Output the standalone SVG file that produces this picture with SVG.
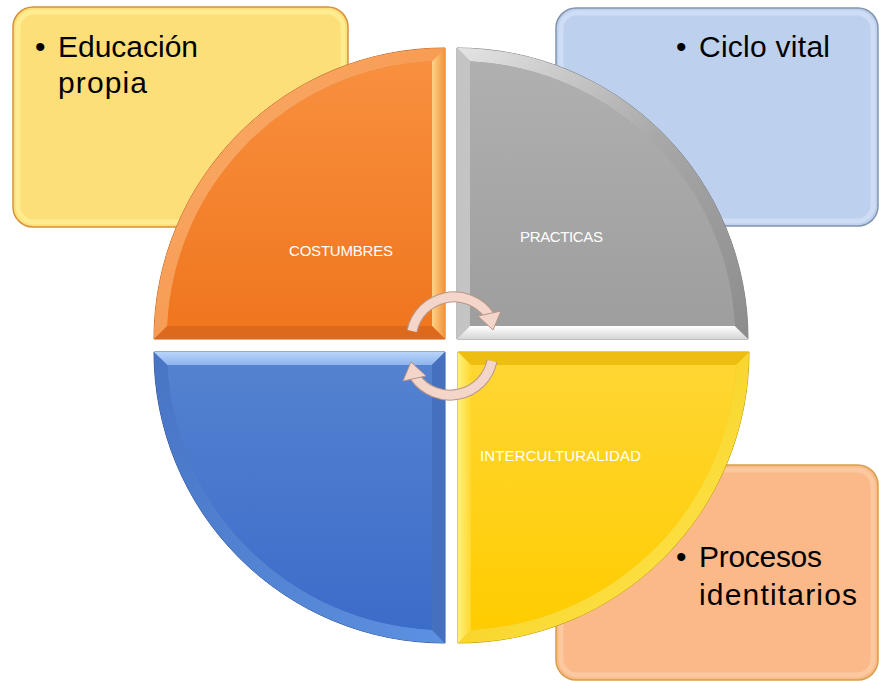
<svg xmlns="http://www.w3.org/2000/svg" width="879" height="681" viewBox="0 0 879 681">
<style>
.big{font-family:"Liberation Sans",Arial,sans-serif;font-size:30px;fill:#000}
.lbl{font-family:"Liberation Sans",Arial,sans-serif;font-size:15px;fill:#fff}
.arrowOut{fill:none;stroke:#B8968A;stroke-width:11}
.arrowIn{fill:none;stroke:#F3D5CA;stroke-width:9}
.head{fill:#F3D5CA;stroke:#B8968A;stroke-width:1}
</style>
<defs>
<linearGradient id="oMain" x1="0" y1="0" x2="0" y2="1"><stop offset="0" stop-color="#F8903F"/><stop offset="1" stop-color="#F0761F"/></linearGradient>
<linearGradient id="oRight" x1="0" y1="0" x2="1" y2="0"><stop offset="0" stop-color="#FFD488"/><stop offset="1" stop-color="#F3923A"/></linearGradient>
<linearGradient id="oArc" x1="0" y1="0" x2="1" y2="1"><stop offset="0" stop-color="#FBB070"/><stop offset="1" stop-color="#F28838"/></linearGradient>
<linearGradient id="gMain" x1="0" y1="0" x2="0" y2="1"><stop offset="0" stop-color="#B0B0B0"/><stop offset="1" stop-color="#9E9E9E"/></linearGradient>
<linearGradient id="gArc" x1="0" y1="0" x2="1" y2="1"><stop offset="0" stop-color="#E4E4E4"/><stop offset="0.5" stop-color="#A8A8A8"/><stop offset="1" stop-color="#8C8C8C"/></linearGradient>
<linearGradient id="gBot" x1="0" y1="0" x2="0" y2="1"><stop offset="0" stop-color="#FFFFFF"/><stop offset="1" stop-color="#D6D6D6"/></linearGradient>
<linearGradient id="bMain" x1="0" y1="0" x2="0" y2="1"><stop offset="0" stop-color="#5482D0"/><stop offset="1" stop-color="#3B6CC9"/></linearGradient>
<linearGradient id="bTop" x1="0" y1="0" x2="0" y2="1"><stop offset="0" stop-color="#B8D4FA"/><stop offset="1" stop-color="#8FB4EC"/></linearGradient>
<linearGradient id="bArc" x1="0" y1="0" x2="1" y2="1"><stop offset="0" stop-color="#4874C4"/><stop offset="1" stop-color="#5C90E0"/></linearGradient>
<linearGradient id="yMain" x1="0" y1="0" x2="0" y2="1"><stop offset="0" stop-color="#FFD633"/><stop offset="1" stop-color="#FFCC00"/></linearGradient>
<linearGradient id="yLeft" x1="0" y1="0" x2="1" y2="0"><stop offset="0" stop-color="#FFF07A"/><stop offset="1" stop-color="#FFD830"/></linearGradient>
<linearGradient id="yArc" x1="0" y1="0" x2="1" y2="1"><stop offset="0" stop-color="#F2C200"/><stop offset="1" stop-color="#FFEA5A"/></linearGradient>
</defs>

<g id="box-educacion">
<rect x="13" y="7" width="335" height="220" rx="20" fill="#FCDF78" stroke="#D8913A" stroke-width="1.5"/>
<rect x="18" y="12" width="325" height="210" rx="16" fill="none" stroke="#FFEE96" stroke-width="5" opacity="0.8"/>
<text class="big" x="35" y="57">•</text>
<text class="big" x="58" y="57" textLength="140">Educación</text>
<text class="big" x="58" y="93" textLength="89">propia</text>
</g>

<g id="box-ciclo">
<rect x="556" y="8" width="322" height="218" rx="20" fill="#BDD0EE" stroke="#8494AC" stroke-width="1.5"/>
<rect x="561" y="13" width="312" height="208" rx="16" fill="none" stroke="#D2E0F6" stroke-width="5" opacity="0.8"/>
<text class="big" x="676" y="57">•</text>
<text class="big" x="699" y="57" textLength="131">Ciclo vital</text>
</g>

<g id="box-procesos">
<rect x="556" y="465" width="322" height="215" rx="20" fill="#FBB98A" stroke="#D6A04A" stroke-width="1.5"/>
<rect x="561" y="470" width="312" height="205" rx="16" fill="none" stroke="#FDCCA4" stroke-width="5" opacity="0.8"/>
<text class="big" x="676" y="567">•</text>
<text class="big" x="699" y="567" textLength="123">Procesos</text>
<text class="big" x="699" y="605" textLength="158">identitarios</text>
</g>

<g id="seg-costumbres">
<path d="M445,339 L445,48 A291,291 0 0 0 154,339 Z" fill="#E8782A" stroke="#C0601A" stroke-width="1"/>
<path d="M445,48 A291,291 0 0 0 154,339 L167.3,326 A278,278 0 0 1 432,61.3 Z" fill="url(#oArc)"/>
<polygon points="445,339 445,48 432,61.3 432,326" fill="url(#oRight)"/>
<polygon points="445,339 432,326 167.3,326 154,339" fill="#DD6A1C"/>
<path d="M432,326 L432,61.3 A278,278 0 0 0 167.3,326 Z" fill="url(#oMain)"/>
<text class="lbl" x="289" y="256" textLength="104">COSTUMBRES</text>
</g>

<g id="seg-practicas">
<path d="M457,339 L457,48 A291,291 0 0 1 748,339 Z" fill="#A0A0A0" stroke="#7F7F7F" stroke-width="1"/>
<path d="M457,48 A291,291 0 0 1 748,339 L734.7,326 A278,278 0 0 0 470,61.3 Z" fill="url(#gArc)"/>
<polygon points="457,339 457,48 470,61.3 470,326" fill="#C4C4C4"/>
<polygon points="457,339 470,326 734.7,326 748,339" fill="url(#gBot)"/>
<path d="M470,326 L470,61.3 A278,278 0 0 1 734.7,326 Z" fill="url(#gMain)"/>
<text class="lbl" x="520" y="242" textLength="83">PRACTICAS</text>
</g>

<g id="seg-blue">
<path d="M445,352 L154,352 A291,291 0 0 0 445,643 Z" fill="#3F6DC0" stroke="#2F528F" stroke-width="1"/>
<path d="M154,352 A291,291 0 0 0 445,643 L432,629.7 A278,278 0 0 1 167.3,365 Z" fill="url(#bArc)"/>
<polygon points="445,352 154,352 167.3,365 432,365" fill="url(#bTop)"/>
<polygon points="445,352 432,365 432,629.7 445,643" fill="#4470BE"/>
<path d="M432,365 L167.3,365 A278,278 0 0 0 432,629.7 Z" fill="url(#bMain)"/>
</g>

<g id="seg-intercult">
<path d="M458,352 L749,352 A291,291 0 0 1 458,643 Z" fill="#F5C400" stroke="#B8960A" stroke-width="1"/>
<path d="M749,352 A291,291 0 0 1 458,643 L471,629.7 A278,278 0 0 0 735.7,365 Z" fill="url(#yArc)"/>
<polygon points="458,352 749,352 735.7,365 471,365" fill="#EDBE10"/>
<polygon points="458,352 471,365 471,629.7 458,643" fill="url(#yLeft)"/>
<path d="M471,365 L735.7,365 A278,278 0 0 1 471,629.7 Z" fill="url(#yMain)"/>
<text class="lbl" x="480" y="461" textLength="161">INTERCULTURALIDAD</text>
</g>

<g id="connectors">
<g id="arrow-top">
<path class="arrowOut" d="M412,331 A42.9,42.9 0 0 1 489,315"/>
<path class="arrowIn" d="M412,331 A42.9,42.9 0 0 1 489,315"/>
<polygon class="head" points="478,316 501,311 493,330"/>
</g>
<g id="arrow-bottom" transform="rotate(180 452 346)">
<path class="arrowOut" d="M412,331 A42.9,42.9 0 0 1 489,315"/>
<path class="arrowIn" d="M412,331 A42.9,42.9 0 0 1 489,315"/>
<polygon class="head" points="478,316 501,311 493,330"/>
</g>
</g>
</svg>
